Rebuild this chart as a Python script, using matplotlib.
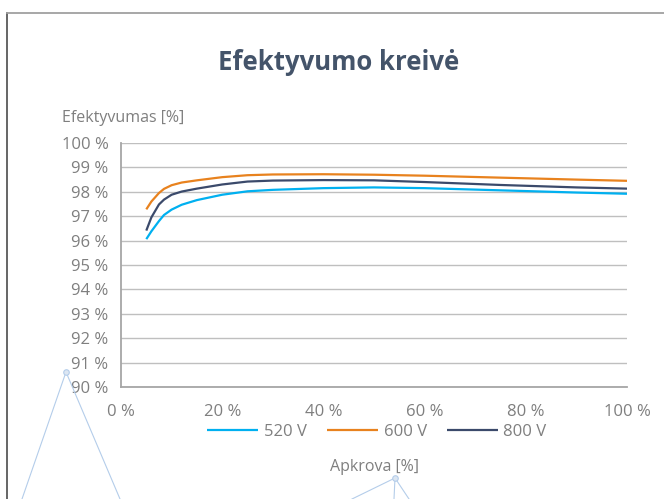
import matplotlib
matplotlib.use('Agg')
import matplotlib.pyplot as plt
from matplotlib.lines import Line2D
import matplotlib.ticker as ticker

plt.rcParams['font.family'] = ['Open Sans', 'DejaVu Sans']

# data
load = [5, 6, 7.5, 8.5, 10, 12, 15, 20, 25, 30, 40, 50, 60, 75, 90, 100]
eff_520 = [96.06, 96.38, 96.8, 97.05, 97.27, 97.47, 97.66, 97.88, 98.02, 98.08, 98.15, 98.18, 98.15, 98.06, 97.97, 97.92]
eff_600 = [97.28, 97.6, 97.95, 98.12, 98.27, 98.38, 98.47, 98.6, 98.68, 98.71, 98.72, 98.7, 98.66, 98.58, 98.5, 98.45]
eff_800 = [96.41, 96.95, 97.48, 97.68, 97.88, 98.01, 98.13, 98.3, 98.42, 98.46, 98.48, 98.47, 98.4, 98.28, 98.18, 98.13]
series_names = ['520 V', '600 V', '800 V']
series_colors = ['#00B0F0', '#E8821E', '#3B4A6B']

x_ticks = [0, 20, 40, 60, 80, 100]
y_ticks = list(range(90, 101))

W, H = 664, 499
fig = plt.figure(figsize=(W / 100, H / 100), dpi=100)

# plot area
ax = fig.add_axes([121 / W, 1 - 387 / H, (627 - 121) / W, (387 - 143) / H])
for vals, name, col in zip([eff_520, eff_600, eff_800], series_names, series_colors):
    ax.plot(load, vals, color=col, linewidth=1.6, label=name,
            solid_capstyle='butt', solid_joinstyle='round')

ax.set_xlim(0, 100)
ax.set_ylim(90, 100)
ax.set_xticks(x_ticks)
ax.set_yticks(y_ticks)
ax.xaxis.set_major_formatter(ticker.FuncFormatter(lambda v, p: f'{v:.0f} %'))
ax.yaxis.set_major_formatter(ticker.FuncFormatter(lambda v, p: f'{v:.0f} %'))
ax.tick_params(axis='both', length=0, labelsize=12, colors='#7F7F7F')
ax.tick_params(axis='x', pad=12)
ax.tick_params(axis='y', pad=9)
ax.grid(axis='y', color='#BFBFBF', linewidth=1.0)
ax.set_axisbelow(True)
for s in ['top', 'right']:
    ax.spines[s].set_visible(False)
for s in ['left', 'bottom']:
    ax.spines[s].set_color('#A6A6A6')
    ax.spines[s].set_linewidth(1.3)

# texts
fig.text(339 / W, 1 - 63 / H, 'Efektyvumo kreivė', ha='center', va='center',
         fontsize=18.5, fontweight='bold', color='#44546A')
fig.text(62 / W, 1 - 118 / H, 'Efektyvumas [%]', ha='left', va='center',
         fontsize=11.5, color='#7F7F7F')
fig.text(375 / W, 1 - 467 / H, 'Apkrova [%]', ha='center', va='center',
         fontsize=11.5, color='#7F7F7F')

leg = fig.legend(loc='center', bbox_to_anchor=(377 / W, 1 - 432 / H), ncol=3,
                 frameon=False, fontsize=12, handlelength=3.05, handletextpad=0.35,
                 columnspacing=1.2, labelcolor='#7F7F7F')

# frame of the chart box and stray callout lines
over = fig.add_axes([0, 0, 1, 1], facecolor='none')
over.set_xlim(0, W)
over.set_ylim(H, 0)
over.axis('off')
over.add_line(Line2D([7, 7], [H, 12.5], color='#595959', linewidth=1.3))
over.add_line(Line2D([7, W], [12.5, 12.5], color='#A0A0A0', linewidth=1.3))
callouts = [
    ((66, 372), [(22, H), (120, H)]),
    ((395, 478), [(352, H), (394, H), (409, H)]),
]
for (vx, vy), ends in callouts:
    for ex, ey in ends:
        over.add_line(Line2D([vx, ex], [vy, ey], color='#B4CDEA', linewidth=0.8))
    over.plot([vx], [vy], marker='o', markersize=4, markerfacecolor='#DCE6F2',
              markeredgecolor='#B4CDEA', markeredgewidth=0.8)

fig.savefig('out.png', dpi=100)
